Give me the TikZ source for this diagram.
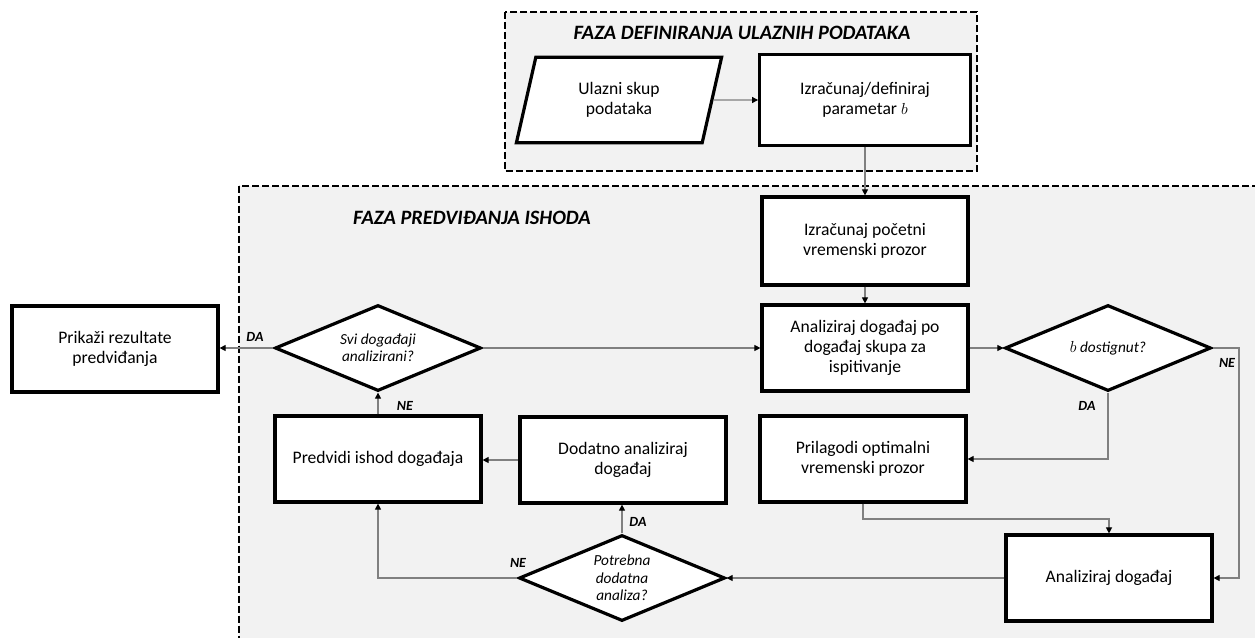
\documentclass[tikz,border=0pt]{standalone}
\usepackage{fontspec}
\setmainfont{Carlito}
\usetikzlibrary{shapes.geometric,arrows.meta}
\definecolor{bggray}{HTML}{F2F2F2}
\definecolor{linegray}{HTML}{808080}
\begin{document}
\begin{tikzpicture}[x=0.75pt,y=-0.75pt,
  phase/.style={draw=black, line width=0.9pt, dash pattern=on 5pt off 2.5pt, fill=bggray},
  box/.style={draw, line width=2.4pt, fill=white, minimum width=154.5pt, minimum height=64.5pt,
    align=center, inner sep=2pt, font=\fontsize{13.2}{15}\selectfont},
  dia/.style={diamond, draw, line width=2.4pt, fill=white, minimum width=154.5pt, minimum height=64.5pt,
    aspect=2.4, inner sep=0pt, align=center, font=\fontsize{11.5}{13}\selectfont\itshape},
  conn/.style={draw=linegray, line width=0.85pt, -{Triangle[length=4.5pt,width=4.5pt,color=black]}},
  lbl/.style={inner sep=0pt, font=\fontsize{10.5}{12}\selectfont\bfseries\itshape},
  ttl/.style={inner sep=0pt, font=\fontsize{15.3}{17}\selectfont\bfseries\itshape}]
\useasboundingbox (0,0) rectangle (1255,637);
\clip (0,0) rectangle (1255,637);
\fill[white] (0,0) rectangle (1255,637);
% phases
\path[phase] (505,12) rectangle (977,171);
\path[phase] (239,186) rectangle (1275,660);
\node[ttl] (t1) at (742,33) {FAZA DEFINIRANJA ULAZNIH PODATAKA};
\node[ttl] (t2) at (472,218) {FAZA PREDVIĐANJA ISHODA};
% nodes
\node[trapezium, trapezium left angle=76, trapezium right angle=104, trapezium stretches=true,
  draw, line width=2.4pt, fill=white, minimum width=154pt, minimum height=64pt, align=center,
  inner sep=2pt, font=\fontsize{13.2}{15}\selectfont] (ulaz) at (619,100) {Ulazni skup\\podataka};
\node[box, minimum width=158pt, minimum height=68pt] (param) at (865,100) {Izračunaj/definiraj\\parametar $b$};
\node[box, minimum height=66pt] (poc) at (865,241) {Izračunaj početni\\vremenski prozor};
\node[box] (an1) at (865,348) {Analiziraj događaj po\\događaj skupa za\\ispitivanje};
\node[dia] (bd) at (1108,348) {$b$ dostignut?};
\node[box] (pril) at (863,459) {Prilagodi optimalni\\vremenski prozor};
\node[box] (an2) at (1109,578) {Analiziraj događaj};
\node[dia] (pot) at (622,578) {Potrebna\\dodatna\\analiza?};
\node[box] (dod) at (623,460) {Dodatno analiziraj\\događaj};
\node[box] (pred) at (378,459) {Predvidi ishod događaja};
\node[dia] (svi) at (378,348) {Svi događaji\\analizirani?};
\node[box] (prik) at (115,349) {Prikaži rezultate\\predviđanja};
% helper coordinates
\coordinate (ne) at (1239,348);
\coordinate (m1) at (863,519);
% connectors
\draw[conn] (ulaz) -- (param);
\draw[conn] (param.south) -- (poc.north);
\draw[conn] (poc.south) -- (an1.north);
\draw[conn] (an1.east) -- (bd.west);
\draw[conn] (bd.south) |- (pril.east);
\draw[conn] (bd.east) -- (ne) |- (an2.east);
\draw[conn] (pril.south) -- (m1) -| (an2.north);
\draw[conn] (an2.west) -- (pot.east);
\draw[conn] (pot.north) -- (pot.north |- dod.south);
\draw[conn] (pot.west) -| (pred.south);
\draw[conn] (dod.west) -- (pred.east |- dod.west);
\draw[conn] (pred.north) -- (svi.south);
\draw[conn] (svi.east) -- (an1.west);
\draw[conn] (svi.west) -- (prik.east |- svi.west);
% labels
\node[lbl] (l1) at (255,337) {DA};
\node[lbl] (l2) at (405,406) {NE};
\node[lbl] (l3) at (1087,406) {DA};
\node[lbl] (l4) at (1227,363) {NE};
\node[lbl] (l5) at (638,522) {DA};
\node[lbl] (l6) at (518,563) {NE};
\end{tikzpicture}
\end{document}
